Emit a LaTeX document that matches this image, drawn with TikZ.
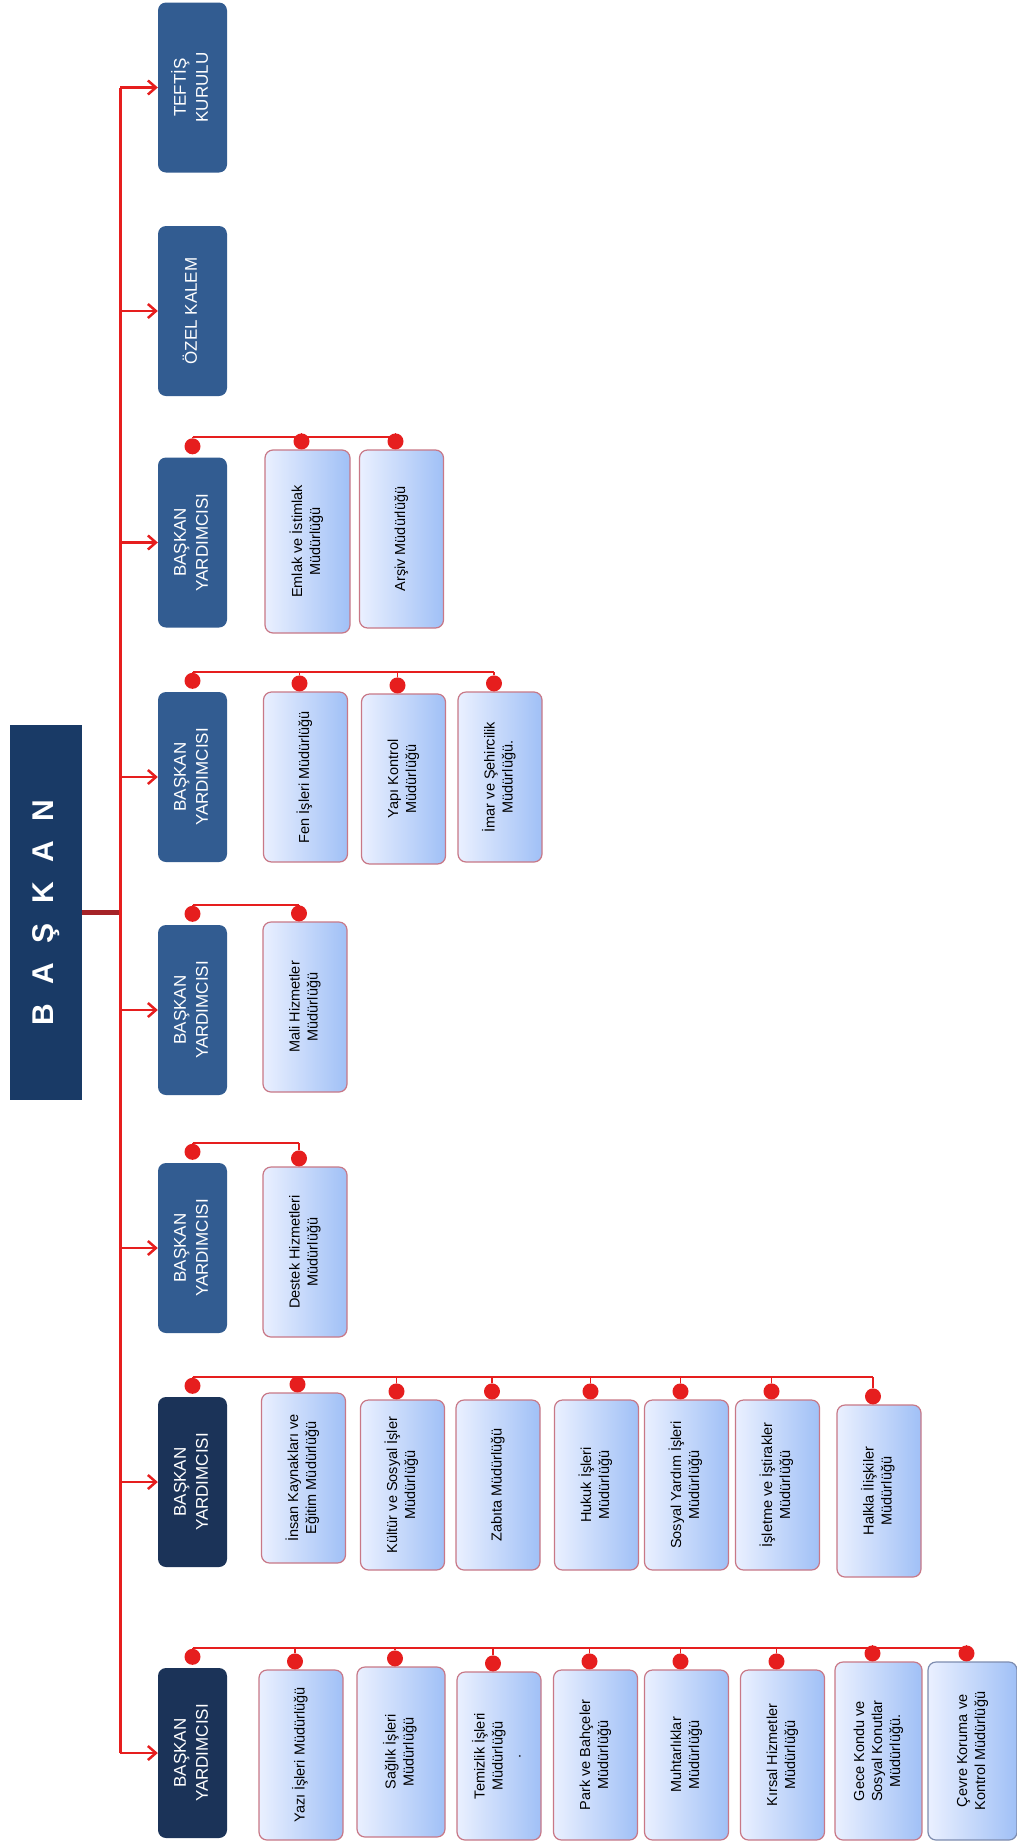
\documentclass[tikz,border=0pt]{standalone}
\usepackage{fontspec}
\setmainfont{Liberation Sans}
\usepackage{graphicx}
\usetikzlibrary{arrows.meta}
\definecolor{bkblue}{RGB}{25,58,102}
\definecolor{bymid}{RGB}{50,92,145}
\definecolor{bydark}{RGB}{27,51,88}
\definecolor{unitlight}{RGB}{234,240,255}
\definecolor{unitdark}{RGB}{160,192,246}
\definecolor{unitedge}{RGB}{200,120,135}
\definecolor{greyedge}{RGB}{125,140,175}
\definecolor{orgred}{RGB}{230,30,30}
\definecolor{stemred}{RGB}{165,35,40}
\newcommand{\uptext}[1]{\rotatebox{90}{\begin{tabular}{@{}c@{}}#1\end{tabular}}}
\newcommand{\byname}{\uptext{BAŞKAN\\YARDIMCISI}}

\begin{document}
\begin{tikzpicture}[x=1pt,y=-1pt,
  head/.style={fill=bkblue,text=white,minimum width=72,minimum height=375,inner sep=0,font=\fontsize{30}{36}\selectfont\bfseries},
  chief/.style={fill=bymid,text=white,rounded corners=8,minimum width=69,minimum height=170,inner sep=0,font=\fontsize{17}{22}\selectfont},
  chiefdark/.style={chief,fill=bydark},
  unit/.style={draw=unitedge,line width=1.2,left color=unitlight,right color=unitdark,rounded corners=8,minimum width=84,minimum height=170,inner sep=0,font=\fontsize{14.5}{18}\selectfont},
  trunk/.style={orgred,line width=3},
  arrow/.style={orgred,line width=2.5,-{Straight Barb[length=8pt,width=14pt]}},
  stem/.style={stemred,line width=5},
  link/.style={orgred,line width=1.8},
  dot/.style={circle,fill=orgred,inner sep=0,minimum size=16}]
\fill[white] (0,0) rectangle (1017,1842);
\useasboundingbox (0,0) rectangle (1017,1842);

% Head and left column
\node[head] (baskan) at (46,912.5) {\uptext{B\hspace{.65em}A\hspace{.65em}Ş\hspace{.65em}K\hspace{.65em}A\hspace{.65em}N}};
\coordinate (spine) at (120,0);
\node[chief] (teftis) at (192.5,87.5) {\uptext{TEFTİŞ\\KURULU}};
\node[chief] (ozel) at (192.5,311) {\uptext{ÖZEL KALEM}};
\node[chief] (by3) at (192.5,542.5) {\byname};
\node[chief] (by4) at (192.5,777) {\byname};
\node[chief] (by5) at (192.5,1010) {\byname};
\node[chief] (by6) at (192.5,1248) {\byname};
\node[chiefdark] (by7) at (192.5,1482) {\byname};
\node[chiefdark] (by8) at (192.5,1753) {\byname};

% Units
\node[unit,minimum width=85,minimum height=183] (emlak) at (307.5,541.5) {\uptext{Emlak ve İstimlak\\Müdürlüğü}};
\node[unit,minimum height=178] (arsiv) at (401.5,539) {\uptext{Arşiv Müdürlüğü}};

\node[unit] (fen) at (305.5,777) {\uptext{Fen İşleri Müdürlüğü}};
\node[unit] (yapi) at (403.5,779) {\uptext{Yapı Kontrol\\Müdürlüğü}};
\node[unit] (imar) at (500,777) {\uptext{İmar ve Şehircilik\\Müdürlüğü.}};

\node[unit] (mali) at (305,1007) {\uptext{Mali Hizmetler\\Müdürlüğü}};
\node[unit] (destek) at (305,1252) {\uptext{Destek Hizmetleri\\Müdürlüğü}};

\node[unit] (insan) at (303.5,1478) {\uptext{İnsan Kaynakları ve\\Eğitim Müdürlüğü}};
\node[unit] (kultur) at (402.5,1485) {\uptext{Kültür ve Sosyal İşler\\Müdürlüğü}};
\node[unit] (zabita) at (498,1485) {\uptext{Zabıta Müdürlüğü}};
\node[unit] (hukuk) at (596.5,1485) {\uptext{Hukuk İşleri\\Müdürlüğü}};
\node[unit] (sosyal) at (686.5,1485) {\uptext{Sosyal Yardım İşleri\\Müdürlüğü}};
\node[unit] (isletme) at (777.5,1485) {\uptext{İşletme ve İştirakler\\Müdürlüğü}};
\node[unit,minimum height=172] (halkla) at (879,1491) {\uptext{Halkla İlişkiler\\Müdürlüğü}};

\node[unit] (yazi) at (301,1755) {\uptext{Yazı İşleri Müdürlüğü}};
\node[unit,minimum width=88] (saglik) at (401,1752) {\uptext{Sağlık İşleri\\Müdürlüğü}};
\node[unit,minimum height=168] (temizlik) at (499,1756) {\uptext{Temizlik İşleri\\Müdürlüğü\\.}};
\node[unit] (park) at (595.5,1755) {\uptext{Park ve Bahçeler\\Müdürlüğü}};
\node[unit] (muhtar) at (686.5,1755) {\uptext{Muhtarlıklar\\Müdürlüğü}};
\node[unit] (kirsal) at (782.5,1755) {\uptext{Kırsal Hizmetler\\Müdürlüğü}};
\node[unit,minimum width=87,minimum height=178] (gece) at (878.5,1751) {\uptext{Gece Kondu ve\\Sosyal Konutlar\\Müdürlüğü.}};
\node[unit,draw=greyedge,minimum width=89,minimum height=178] (cevre) at (972.5,1751) {\uptext{Çevre Koruma ve\\Kontrol Müdürlüğü}};

% Connectors
\draw[stem] (baskan.east) -- (baskan.east -| spine);
\draw[trunk] (teftis.west -| spine) -- (by8.west -| spine);
\foreach \n in {teftis,ozel,by3,by4,by5,by6,by7,by8}
  \draw[arrow] (\n.west -| spine) -- (\n.west);

\foreach \b/\us/\last in {by3/{emlak,arsiv}/arsiv, by4/{fen,yapi,imar}/imar,
    by5/{mali}/mali, by6/{destek}/destek,
    by7/{insan,kultur,zabita,hukuk,sosyal,isletme,halkla}/halkla,
    by8/{yazi,saglik,temizlik,park,muhtar,kirsal,gece,cevre}/cevre}{
  \coordinate (l\b) at ([yshift=20]\b.north);
  \node[dot] (p\b) at ([yshift=11]\b.north) {};
  \draw[link] (p\b) -- (p\b |- l\b);
  \foreach \u in \us {
    \node[dot] (p\u) at ([xshift=-6,yshift=8]\u.north) {};
    \draw[link] (p\u) -- (p\u |- l\b);
  }
  \draw[link] (p\b |- l\b) -- (p\last |- l\b);
}
\end{tikzpicture}
\end{document}
